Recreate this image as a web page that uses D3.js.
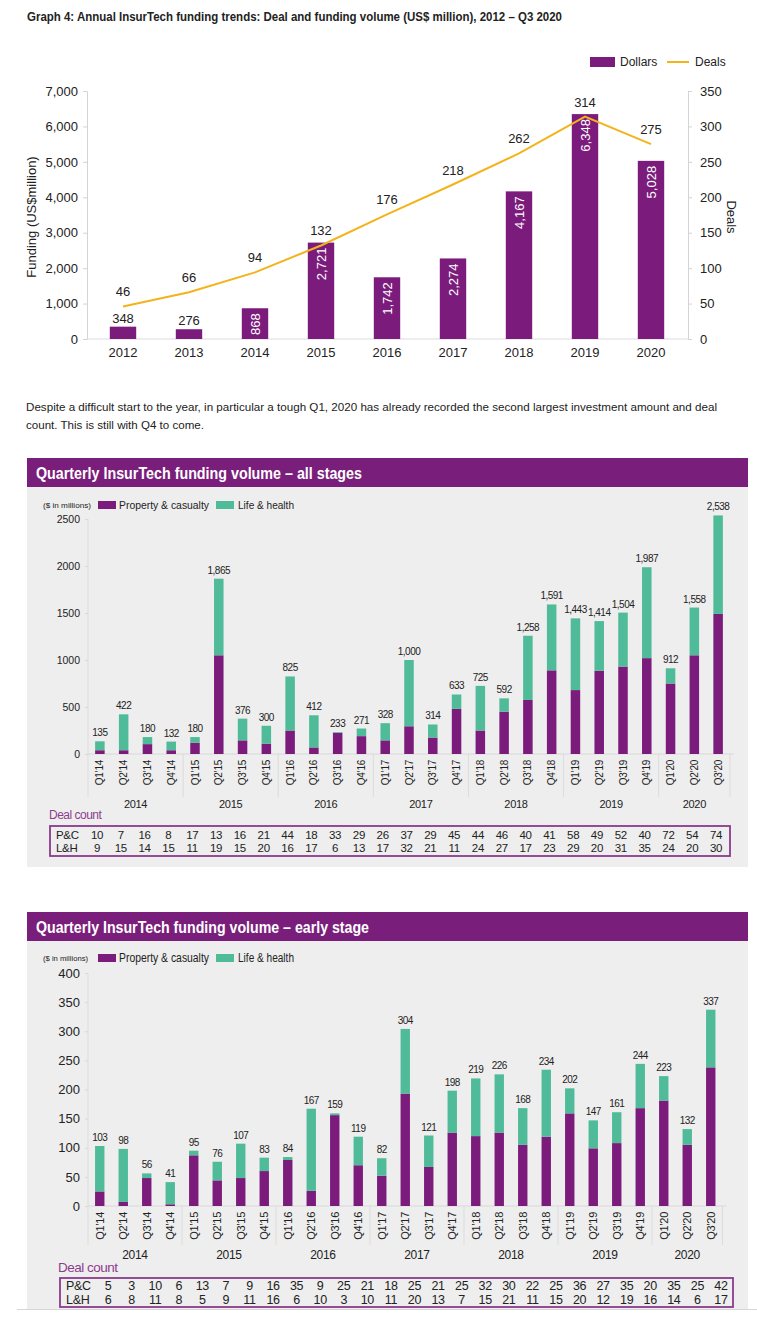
<!DOCTYPE html>
<html>
<head>
<meta charset="utf-8">
<script src="https://cdn.jsdelivr.net/npm/d3@7"></script>
<style>
body{margin:0;background:#fff}
svg text{font-family:"Liberation Sans",Arial,sans-serif;fill:#222}
</style>
</head>
<body>
<svg id="page" width="757" height="1319"></svg>
<script>
// annual data
const years = ['2012','2013','2014','2015','2016','2017','2018','2019','2020']
const dollars = [348, 276, 868, 2721, 1742, 2274, 4167, 6348, 5028]
const deals = [46, 66, 94, 132, 176, 218, 262, 314, 275]

// quarterly data
const quarters = ["Q1'14","Q2'14","Q3'14","Q4'14","Q1'15","Q2'15","Q3'15","Q4'15","Q1'16","Q2'16","Q3'16","Q4'16",
    "Q1'17","Q2'17","Q3'17","Q4'17","Q1'18","Q2'18","Q3'18","Q4'18","Q1'19","Q2'19","Q3'19","Q4'19","Q1'20","Q2'20","Q3'20"]
const qYears = ['2014','2015','2016','2017','2018','2019','2020']

// all stages
const allPC = [40,40,105,40,120,1050,145,110,250,70,225,190,145,295,175,480,250,450,575,890,680,885,930,1020,750,1050,1490]
const allLH = [95,382,75,92,60,815,231,190,575,342,8,81,183,705,139,153,475,142,683,701,763,529,574,967,162,508,1048]
const allDealsPC = [10,7,16,8,17,13,16,21,44,18,33,29,26,37,29,45,44,46,40,41,58,49,52,40,72,54,74]
const allDealsLH = [9,15,14,15,11,19,15,20,16,17,6,13,17,32,21,11,24,27,17,23,29,20,31,35,24,20,30]
const allTicks = [0,500,1000,1500,2000,2500]

// early stage
const earlyPC = [25,7,48,3,87,44,48,60,79,26,156,70,52,193,67,126,120,126,105,119,159,99,108,168,181,105,238]
const earlyLH = [78,91,8,38,8,32,59,23,5,141,3,49,30,111,54,72,99,100,63,115,43,48,53,76,42,27,99]
const earlyDealsPC = [5,3,10,6,13,7,9,16,35,9,25,21,18,25,21,25,32,30,22,25,36,27,35,20,35,25,42]
const earlyDealsLH = [6,8,11,8,5,9,11,16,6,10,3,10,11,20,13,7,15,21,11,15,20,12,19,16,14,6,17]
const earlyTicks = [0,50,100,150,200,250,300,350,400]

const purple = '#7b1c7c', teal = '#4fbb99', gold = '#f3b31b', headPurple = '#7a1e7b', textPurple = '#8d3c8f'

let svg = d3.select('#page')

// squeeze a text to the width it takes in the picture (the original face is condensed)
function squeeze(sel, w){
    sel.attr('textLength', w).attr('lengthAdjust', 'spacingAndGlyphs')
    return sel
}

////////////////  Graph 4

squeeze(svg.append('text')
    .attr('x', 27).attr('y', 21)
    .attr('font-size', 12.5).attr('font-weight','bold')
    .text('Graph 4: Annual InsurTech funding trends: Deal and funding volume (US$ million), 2012 – Q3 2020'), 535)

let x1 = d3.scaleBand().domain(years).range([90, 684]).paddingInner(0.6).paddingOuter(0.3)
let yL = d3.scaleLinear().domain([0, 7000]).range([339, 91])
let yR = d3.scaleLinear().domain([0, 350]).range([339, 91])

let g1 = svg.append('g')

let leftAxis = g1.append('g')
    .attr('transform','translate(87,0)')
    .call(d3.axisLeft(yL).tickValues(d3.range(0, 7001, 1000)).tickFormat(d3.format(',')).tickSize(4).tickPadding(5))
let rightAxis = g1.append('g')
    .attr('transform','translate(688,0)')
    .call(d3.axisRight(yR).tickValues(d3.range(0, 351, 50)).tickSize(4).tickPadding(8))
;[leftAxis, rightAxis].forEach(function(a){
    a.selectAll('path,line').attr('stroke','#d4d4d4')
    a.selectAll('text').attr('font-size', 13).attr('fill','#222')
})

g1.append('line')
    .attr('x1', 87).attr('x2', 688)
    .attr('y1', 339).attr('y2', 339)
    .attr('stroke','#dcdcdc')

let bottom = g1.append('g')
    .attr('transform','translate(0,339)')
    .call(d3.axisBottom(x1).tickSize(0).tickPadding(9))
bottom.select('.domain').remove()
bottom.selectAll('text').attr('font-size', 13).attr('fill','#222')

g1.selectAll('bar')
    .data(years)
    .enter()
    .append('rect')
    .attr('x', function(d){ return x1(d) })
    .attr('y', function(d,i){ return yL(dollars[i]) })
    .attr('width', x1.bandwidth())
    .attr('height', function(d,i){ return 339 - yL(dollars[i]) })
    .attr('fill', purple)

g1.selectAll('bar_value')
    .data(years)
    .enter()
    .append('text')
    .attr('font-size', 13)
    .attr('dy', function(d,i){ return dollars[i] < 500 ? 0 : '0.35em' })
    .attr('text-anchor', function(d,i){ return dollars[i] < 500 ? 'middle' : 'end' })
    .attr('transform', function(d,i){
        let cx = x1(d) + x1.bandwidth() / 2
        if (dollars[i] < 500) return 'translate(' + cx + ',' + (yL(dollars[i]) - 4) + ')'
        return 'translate(' + cx + ',' + (yL(dollars[i]) + 5) + ') rotate(-90)'
    })
    .style('fill', function(d,i){ return dollars[i] < 500 ? '#222' : '#fff' })
    .text(function(d,i){ return d3.format(',')(dollars[i]) })

let dealLine = d3.line()
    .x(function(d,i){ return x1(years[i]) + x1.bandwidth() / 2 })
    .y(function(d){ return yR(d) })

g1.append('path')
    .datum(deals)
    .attr('d', dealLine)
    .attr('fill','none')
    .attr('stroke', gold)
    .attr('stroke-width', 2)

g1.selectAll('deal_value')
    .data(deals)
    .enter()
    .append('text')
    .attr('x', function(d,i){ return x1(years[i]) + x1.bandwidth() / 2 })
    .attr('y', function(d){ return yR(d) - 10 })
    .attr('text-anchor','middle')
    .attr('font-size', 13)
    .text(function(d){ return d })

g1.append('text')
    .attr('transform','translate(36,217) rotate(-90)')
    .attr('text-anchor','middle')
    .attr('font-size', 13)
    .text('Funding (US$million)')

g1.append('text')
    .attr('transform','translate(727,217) rotate(90)')
    .attr('text-anchor','middle')
    .attr('font-size', 13)
    .text('Deals')

// legend
g1.append('rect').attr('x', 590).attr('y', 57).attr('width', 25).attr('height', 10).attr('fill', purple)
g1.append('text').attr('x', 620).attr('y', 66).attr('font-size', 12).text('Dollars')
g1.append('line').attr('x1', 667).attr('x2', 689).attr('y1', 62).attr('y2', 62).attr('stroke', gold).attr('stroke-width', 2)
g1.append('text').attr('x', 695).attr('y', 66).attr('font-size', 12).text('Deals')

////////////////  paragraph

squeeze(svg.append('text')
    .attr('x', 26).attr('y', 411).attr('font-size', 11.5)
    .text('Despite a difficult start to the year, in particular a tough Q1, 2020 has already recorded the second largest investment amount and deal'), 691)
squeeze(svg.append('text')
    .attr('x', 26).attr('y', 429).attr('font-size', 11.5)
    .text('count. This is still with Q4 to come.'), 178)

////////////////  quarterly panels

function drawQuarterly(o){

    let g = svg.append('g')

    g.append('rect')
        .attr('x', 27).attr('y', o.top)
        .attr('width', 721).attr('height', o.bottom - o.top)
        .attr('fill', '#eeeeee')

    g.append('rect')
        .attr('x', 27).attr('y', o.top)
        .attr('width', 721).attr('height', 29)
        .attr('fill', headPurple)

    squeeze(g.append('text')
        .attr('x', 36).attr('y', o.top + 21)
        .attr('font-size', o.titleSize).attr('font-weight','bold')
        .style('fill','#fff')
        .text(o.title), o.titleW)

    // legend
    squeeze(g.append('text')
        .attr('x', 43).attr('y', o.legendY + 3)
        .attr('font-size', 8)
        .text('($ in millions)'), o.unitW)
    g.append('rect').attr('x', 98).attr('y', o.legendY - 4).attr('width', 18).attr('height', 8).attr('fill', purple)
    squeeze(g.append('text').attr('x', 119).attr('y', o.legendY + 4).attr('font-size', o.legendSize).text('Property & casualty'), 90)
    g.append('rect').attr('x', 216).attr('y', o.legendY - 4).attr('width', 18).attr('height', 8).attr('fill', teal)
    squeeze(g.append('text').attr('x', 238).attr('y', o.legendY + 4).attr('font-size', o.legendSize).text('Life & health'), 56)

    let x = d3.scaleBand().domain(quarters).range([88, o.xEnd]).paddingInner(0.6).paddingOuter(0.3)
    let y = d3.scaleLinear().domain([0, o.max]).range([o.base, o.yTop])

    let yAxis = g.append('g')
        .attr('transform','translate(88,0)')
        .call(d3.axisLeft(y).tickValues(o.ticks).tickFormat(d3.format('d')).tickSize(3).tickPadding(5))
    yAxis.select('.domain').remove()
    yAxis.selectAll('line').attr('stroke','#d8d8d8')
    yAxis.selectAll('text').attr('font-size', o.tickSize).attr('fill','#222')

    // axis line, baseline, year separators
    g.append('line')
        .attr('x1', 88).attr('x2', 88)
        .attr('y1', o.yTop).attr('y2', o.sepEnd)
        .attr('stroke', '#dcdcdc')
    g.append('line')
        .attr('x1', 88).attr('x2', o.xEnd + 4)
        .attr('y1', o.base).attr('y2', o.base)
        .attr('stroke', '#d8d8d8')

    let yearStart = [0,4,8,12,16,20,24]
    let sepIdx = [4,8,12,16,20,24]
    g.selectAll('sep')
        .data(sepIdx)
        .enter()
        .append('line')
        .attr('x1', function(d){ return x(quarters[d]) - x.step() * 0.3 })
        .attr('x2', function(d){ return x(quarters[d]) - x.step() * 0.3 })
        .attr('y1', o.base).attr('y2', o.sepEnd)
        .attr('stroke', '#dcdcdc')
    g.append('line')
        .attr('x1', o.xEnd).attr('x2', o.xEnd)
        .attr('y1', o.base).attr('y2', o.sepEnd)
        .attr('stroke', '#dcdcdc')

    let stacked = quarters.map(function(q,i){ return {q:q, pc:o.pc[i], lh:o.lh[i]} })

    g.selectAll('pc_bar')
        .data(stacked)
        .enter()
        .append('rect')
        .attr('x', function(d){ return x(d.q) })
        .attr('y', function(d){ return y(d.pc) })
        .attr('width', x.bandwidth())
        .attr('height', function(d){ return o.base - y(d.pc) })
        .attr('fill', purple)

    g.selectAll('lh_bar')
        .data(stacked)
        .enter()
        .append('rect')
        .attr('x', function(d){ return x(d.q) })
        .attr('y', function(d){ return y(d.pc + d.lh) })
        .attr('width', x.bandwidth())
        .attr('height', function(d){ return y(d.pc) - y(d.pc + d.lh) })
        .attr('fill', teal)

    g.selectAll('total')
        .data(stacked)
        .enter()
        .append('text')
        .attr('x', function(d){ return x(d.q) + x.bandwidth() / 2 })
        .attr('y', function(d){ return y(d.pc + d.lh) - 5 })
        .attr('text-anchor','middle')
        .attr('font-size', 10)
        .attr('letter-spacing', -0.5)
        .text(function(d){ return d3.format(',')(d.pc + d.lh) })

    g.selectAll('qlabel')
        .data(quarters)
        .enter()
        .append('text')
        .attr('transform', function(d){ return 'translate(' + (x(d) + x.bandwidth() / 2) + ',' + (o.base + 6) + ') rotate(-90)' })
        .attr('dy','0.35em')
        .attr('text-anchor','end')
        .attr('font-size', o.qSize)
        .attr('letter-spacing', -0.3)
        .text(function(d){ return d.replace("'", '’') })

    g.selectAll('ylabel')
        .data(qYears)
        .enter()
        .append('text')
        .attr('x', function(d,i){
            let first = quarters[yearStart[i]]
            let n = i == 6 ? 3 : 4
            return x(first) - x.step() * 0.3 + x.step() * n / 2
        })
        .attr('y', o.yearY)
        .attr('text-anchor','middle')
        .attr('font-size', o.yearSize)
        .attr('letter-spacing', -0.3)
        .text(function(d){ return d })

    g.append('text')
        .attr('x', o.dealX).attr('y', o.dealY)
        .attr('font-size', o.dealSize)
        .attr('letter-spacing', -0.5)
        .style('fill', textPurple)
        .text('Deal count')

    g.append('rect')
        .attr('x', o.box[0]).attr('y', o.box[1])
        .attr('width', o.box[2] - o.box[0]).attr('height', o.box[3] - o.box[1])
        .attr('fill','none')
        .attr('stroke', '#8a3a8c')
        .attr('stroke-width', 1.8)

    let col = d3.scaleLinear().domain([0, 26]).range(o.cols)

    ;[['P&C', o.dpc, o.rowY[0]], ['L&H', o.dlh, o.rowY[1]]].forEach(function(r){
        g.append('text')
            .attr('x', o.box[0] + 6).attr('y', r[2])
            .attr('font-size', o.rowSize)
            .attr('letter-spacing', -0.3)
            .text(r[0])
        g.selectAll('cnt')
            .data(r[1])
            .enter()
            .append('text')
            .attr('x', function(d,i){ return col(i) })
            .attr('y', r[2])
            .attr('text-anchor','middle')
            .attr('font-size', o.rowSize)
            .attr('letter-spacing', -0.3)
            .text(function(d){ return d })
    })
}

drawQuarterly({
    title: 'Quarterly InsurTech funding volume – all stages', titleSize: 16.5, titleW: 326,
    top: 458, bottom: 867, legendY: 505, legendSize: 11, unitW: 48,
    pc: allPC, lh: allLH, max: 2500, ticks: allTicks, tickSize: 10.5,
    base: 754, yTop: 519, xEnd: 730, qSize: 10, sepEnd: 797,
    yearY: 808, yearSize: 11, dealX: 49, dealY: 819, dealSize: 12,
    box: [50, 826, 730, 856], cols: [97, 716], rowY: [839, 852], rowSize: 11.5,
    dpc: allDealsPC, dlh: allDealsLH
})

drawQuarterly({
    title: 'Quarterly InsurTech funding volume – early stage', titleSize: 17, titleW: 333,
    top: 912, bottom: 1309, legendY: 958, legendSize: 12.5, unitW: 45,
    pc: earlyPC, lh: earlyLH, max: 400, ticks: earlyTicks, tickSize: 13,
    base: 1206, yTop: 973, xEnd: 722.5, qSize: 11, sepEnd: 1245,
    yearY: 1259, yearSize: 12, dealX: 58, dealY: 1272, dealSize: 13.5,
    box: [60, 1278, 733, 1307], cols: [108, 721], rowY: [1290, 1304], rowSize: 12.5,
    dpc: earlyDealsPC, dlh: earlyDealsLH
})

svg.append('line')
    .attr('x1', 17).attr('x2', 757)
    .attr('y1', 1309.5).attr('y2', 1309.5)
    .attr('stroke', '#d6d6d6')
</script>
</body>
</html>
